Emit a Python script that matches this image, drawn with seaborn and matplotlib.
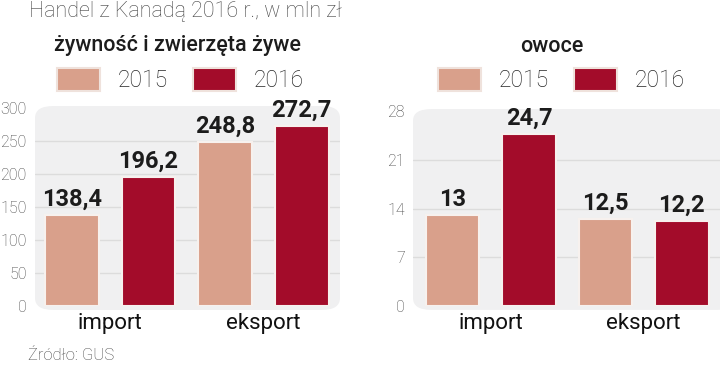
import matplotlib
matplotlib.use("Agg")
import matplotlib.pyplot as plt
from matplotlib.patches import FancyBboxPatch, Patch
import seaborn as sns
import pandas as pd

# data
categories = ["import", "eksport"]
years = ["2015", "2016"]
food_2015 = [138.4, 248.8]
food_2016 = [196.2, 272.7]
fruit_2015 = [13, 12.5]
fruit_2016 = [24.7, 12.2]
food_ticks = [0, 50, 100, 150, 200, 250, 300]
fruit_ticks = [0, 7, 14, 21, 28]

colors = {"2015": "#d9a08b", "2016": "#a30c2a"}

sns.set_theme(style="white")
plt.rcParams["font.family"] = ["Roboto", "DejaVu Sans"]


def make_df(v15, v16):
    rows = []
    for c, a, b in zip(categories, v15, v16):
        rows.append({"kat": c, "rok": "2015", "val": a})
        rows.append({"kat": c, "rok": "2016", "val": b})
    return pd.DataFrame(rows)


def fmt(v):
    return f"{v:g}".replace(".", ",")


def draw_panel(ax, df, ticks, xlim, bg_right):
    ax.set_facecolor("none")
    bg = FancyBboxPatch((0, -0.02), bg_right, 1.03, transform=ax.transAxes,
                        boxstyle="round,pad=0,rounding_size=0.06",
                        facecolor="#f0f0f1", edgecolor="none", zorder=0,
                        clip_on=False)
    ax.add_patch(bg)
    sns.barplot(data=df, x="kat", y="val", hue="rok", palette=colors,
                hue_order=years, order=categories, width=1.0, gap=0.3,
                saturation=1, edgecolor="#f7f1ee", linewidth=1.5,
                legend=False, ax=ax, zorder=2)
    for cont in ax.containers:
        labels = [fmt(b.get_height()) for b in cont]
        ax.bar_label(cont, labels=labels, padding=3, fontsize=17,
                     fontweight="bold", color="#1c1c1c")
    ax.set_ylim(ticks[0], ticks[-1])
    ax.set_xlim(*xlim)
    ax.set_yticks(ticks)
    ax.set_yticklabels([str(t) for t in ticks], fontsize=11.5,
                       color="#444444", fontweight="light")
    for t in ticks[1:-1]:
        ax.axhline(t, color="#dcdcdc", linewidth=1, zorder=1)
    ax.tick_params(axis="y", length=0, pad=6)
    ax.tick_params(axis="x", length=0, pad=5, labelsize=16,
                   labelcolor="#111111")
    ax.set_xlabel("")
    ax.set_ylabel("")
    sns.despine(ax=ax, left=True, bottom=True)


fig = plt.figure(figsize=(7.2, 3.68), dpi=100)
ax1 = fig.add_axes([35 / 720, 1 - 306 / 368, 305 / 720, 198 / 368])
ax2 = fig.add_axes([413 / 720, 1 - 306 / 368, 307 / 720, 195 / 368])

draw_panel(ax1, make_df(food_2015, food_2016), food_ticks, (-0.49, 1.5), 1.0)
draw_panel(ax2, make_df(fruit_2015, fruit_2016), fruit_ticks, (-0.51, 1.5), 1.05)

fig.text(29 / 720, 1 - 12 / 368, "Handel z Kanadą 2016 r., w mln zł",
         fontsize=15.5, fontweight="light", color="#444444", va="center")
fig.text(178 / 720, 1 - 46 / 368, "żywność i zwierzęta żywe",
         fontsize=15.5, fontweight="medium", color="#1c1c1c",
         va="center", ha="center")
fig.text(552 / 720, 1 - 46 / 368, "owoce", fontsize=15.5,
         fontweight="medium", color="#1c1c1c", va="center", ha="center")
fig.text(28 / 720, 1 - 355 / 368, "Źródło: GUS", fontsize=12,
         fontweight="light", color="#444444", va="center")

handles = [Patch(facecolor=colors[y], edgecolor="#efe2dc", linewidth=1.5,
                 label=y) for y in years]
for x0 in (36 / 720, 417 / 720):
    fig.legend(handles=handles, loc="center left",
               bbox_to_anchor=(x0, 1 - 80 / 368), ncol=2, frameon=False,
               handlelength=1.9, handleheight=1.2,
               handletextpad=0.75, columnspacing=1.1,
               prop={"weight": "light", "size": 16.5})

fig.savefig("out.png", dpi=100)
